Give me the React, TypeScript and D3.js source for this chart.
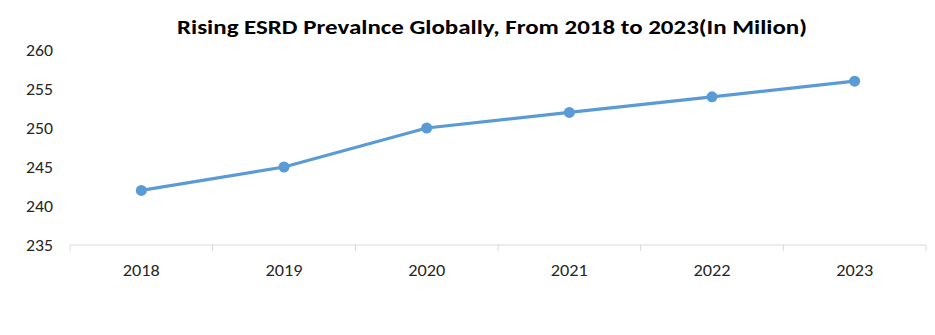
import React from "react";
import * as d3 from "d3";

const years = ["2018", "2019", "2020", "2021", "2022", "2023"];
const values = [242, 245, 250, 252, 254, 256];
const yTicks = [235, 240, 245, 250, 255, 260];
const title = "Rising ESRD Prevalnce Globally, From 2018 to 2023(In Milion)";

const W = 935;
const H = 335;
const left = 70;
const right = 926;
const top = 50;
const bottom = 245;

export default function App() {
  const x = d3.scaleBand<string>().domain(years).range([left, right]);
  const y = d3.scaleLinear().domain([235, 260]).range([bottom, top]);
  const line = d3
    .line<number>()
    .x((_, i) => (x(years[i]) as number) + x.bandwidth() / 2)
    .y((d) => y(d));
  const font = "Carlito, Calibri, 'Open Sans', 'Liberation Sans', Arial, sans-serif";
  const tickXs = years.map((yr) => x(yr) as number).concat([right]);
  return (
    <svg
      width={W}
      height={H}
      style={{ position: "absolute", left: 0, top: 0, background: "#fff" }}
      fontFamily={font}
    >
      <rect x={0} y={0} width={W} height={H} fill="#fff" />
      <text
        x={492}
        y={34}
        textAnchor="middle"
        fontSize={21}
        fontWeight="bold"
        fill="#000"
        textLength={630}
        lengthAdjust="spacingAndGlyphs"
      >
        {title}
      </text>
      {yTicks.map((t) => (
        <text
          key={t}
          x={53}
          y={y(t)}
          dy="0.35em"
          textAnchor="end"
          fontSize={17}
          fill="#262626"
          textLength={27}
          lengthAdjust="spacingAndGlyphs"
        >
          {t}
        </text>
      ))}
      <line x1={left} x2={right} y1={bottom} y2={bottom} stroke="#d9d9d9" strokeWidth={1} />
      {tickXs.map((tx, i) => (
        <line key={i} x1={tx} x2={tx} y1={bottom} y2={bottom + 6} stroke="#d9d9d9" strokeWidth={1} />
      ))}
      {years.map((yr) => (
        <text
          key={yr}
          x={(x(yr) as number) + x.bandwidth() / 2}
          y={270}
          dy="0.35em"
          textAnchor="middle"
          fontSize={17}
          fill="#262626"
          textLength={37}
          lengthAdjust="spacingAndGlyphs"
        >
          {yr}
        </text>
      ))}
      <path d={line(values) as string} fill="none" stroke="#5b9bd5" strokeWidth={3.2} strokeLinejoin="round" />
      {values.map((v, i) => (
        <circle
          key={i}
          cx={(x(years[i]) as number) + x.bandwidth() / 2}
          cy={y(v)}
          r={5.5}
          fill="#5b9bd5"
        />
      ))}
    </svg>
  );
}
